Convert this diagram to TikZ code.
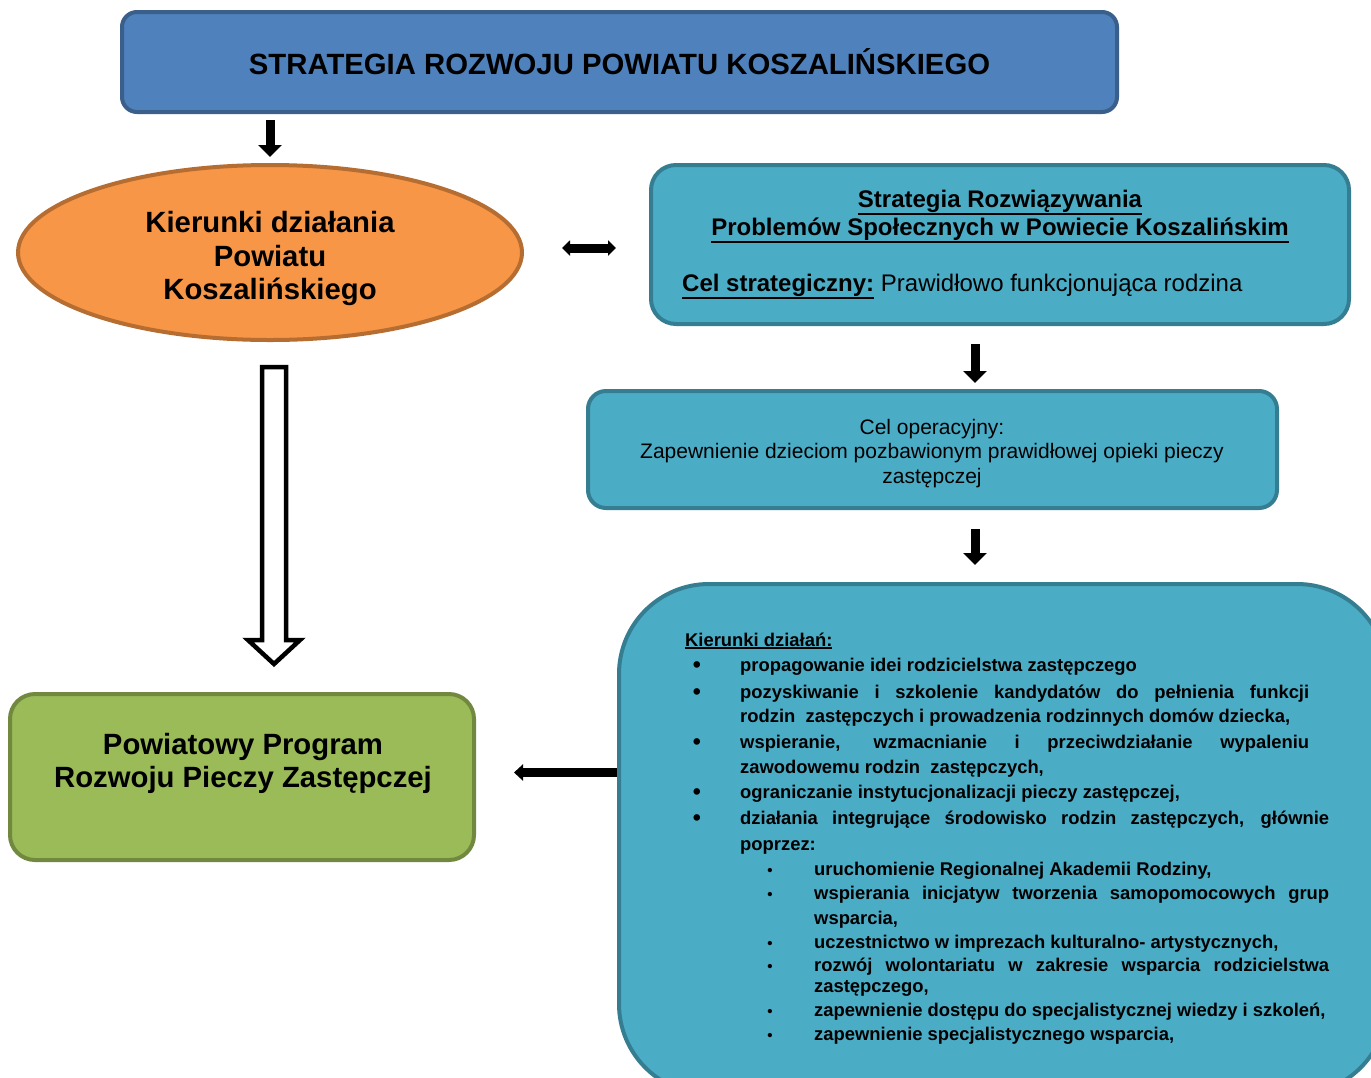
\documentclass[tikz,border=0pt]{standalone}
\usepackage{fontspec}
\setmainfont{Liberation Sans}
\usetikzlibrary{arrows.meta,shapes.geometric}
\definecolor{blueF}{HTML}{4F81BD}
\definecolor{blueD}{HTML}{3A5F8B}
\definecolor{orF}{HTML}{F79646}
\definecolor{orD}{HTML}{B66D31}
\definecolor{tealF}{HTML}{4BACC6}
\definecolor{tealD}{HTML}{357D91}
\definecolor{grF}{HTML}{9BBB59}
\definecolor{grD}{HTML}{71893F}
\newcommand{\thul}[1]{\setbox0=\hbox{#1}\leavevmode\rlap{\vrule width\wd0 height\dimexpr-\dp0-1.2pt\relax depth\dimexpr\dp0+3pt\relax}\box0}
\begin{document}
\begin{tikzpicture}[x=1pt,y=-1pt,
  shapebox/.style={draw, line width=4pt, inner sep=0pt},
  fatarrow/.style={line width=9pt, -{Triangle[width=23pt,length=12pt]}},
  thinarrow/.style={line width=9pt, {Triangle[width=15pt,length=8pt]}-{Triangle[width=15pt,length=8pt]}},
  leftarrow/.style={line width=9pt, -{Triangle[width=16pt,length=9pt]}},
  hollow/.style={draw, line width=4.5pt, fill=white, line join=miter},
  bigfont/.style={font=\fontsize{29.3}{33.5}\selectfont\bfseries},
  midbold/.style={font=\fontsize{24}{28}\selectfont\bfseries},
  midfont/.style={font=\fontsize{24}{28}\selectfont},
  opfont/.style={font=\fontsize{21}{24}\selectfont},
  listfont/.style={font=\fontsize{18.4}{22}\selectfont\bfseries},
  ltext/.style={listfont, anchor=base west, inner sep=0pt},
  mbul/.style={font=\fontsize{23}{23}\selectfont\bfseries, anchor=base, inner sep=0pt},
  sbul/.style={font=\fontsize{15}{15}\selectfont\bfseries, anchor=base, inner sep=0pt}
]
\clip (0,0) rectangle (1371,1077);
\fill[white] (0,0) rectangle (1371,1077);

% top box
\node[shapebox, draw=blueD, fill=blueF, rounded corners=15pt,
  minimum width=995pt, minimum height=100pt, bigfont] (top) at (619.5,62)
  {STRATEGIA ROZWOJU POWIATU KOSZALIŃSKIEGO};

% ellipse
\node[ellipse, shapebox, draw=orD, fill=orF, minimum width=504pt,
  minimum height=175pt] (ell) at (270,252.5) {};
\node[align=center, bigfont, inner sep=0pt] (ellt) at (270,258.5)
  {Kierunki działania\\Powiatu\\Koszalińskiego};

% box 1
\node[shapebox, draw=tealD, fill=tealF, rounded corners=25pt,
  minimum width=698pt, minimum height=159pt] (box1) at (1000,244.5) {};
\node[midbold, anchor=base, inner sep=0pt] (b1a) at (1000,207)
  {\thul{Strategia Rozwiązywania}};
\node[midbold, anchor=base, inner sep=0pt] (b1b) at (1000,235)
  {\thul{Problemów Społecznych w Powiecie Koszalińskim}};
\node[midfont, anchor=base west, inner sep=0pt] (b1c) at (682,291)
  {\textbf{\thul{Cel strategiczny:}} Prawidłowo funkcjonująca rodzina};

% box 2
\node[shapebox, draw=tealD, fill=tealF, rounded corners=18pt,
  minimum width=689pt, minimum height=117pt] (box2) at (932.5,449.5) {};
\node[opfont, anchor=base, inner sep=0pt] (b2a) at (932,434) {Cel operacyjny:};
\node[opfont, anchor=base, inner sep=0pt] (b2b) at (932,458.5)
  {Zapewnienie dzieciom pozbawionym prawidłowej opieki pieczy};
\node[opfont, anchor=base, inner sep=0pt] (b2c) at (932,483) {zastępczej};

% box 3
\node[shapebox, draw=tealD, fill=tealF, rounded corners=90pt,
  minimum width=768pt, minimum height=510pt, anchor=north west] (box3) at (617,582) {};

% green box
\node[shapebox, draw=grD, fill=grF, rounded corners=25pt,
  minimum width=464pt, minimum height=166pt] (green) at (242,777) {};
\node[align=center, font=\fontsize{29.3}{33}\selectfont\bfseries, inner sep=0pt] (greent) at (243,763)
  {Powiatowy Program\\Rozwoju Pieczy Zastępczej};

% arrows
\coordinate (ax) at (975,0);
\draw[fatarrow, shorten <=6pt, shorten >=6pt] (top.south -| ell.north) -- (ell.north);
\draw[thinarrow, shorten <=33pt, shorten >=38pt] ([yshift=-3.5pt]box1.west) -- ([yshift=-3.5pt]box1.west -| ell.east);
\draw[fatarrow, shorten <=18pt, shorten >=6pt] (box1.south -| ax) -- (box2.north -| ax);
\draw[fatarrow, shorten <=19pt, shorten >=17pt] (box2.south -| ax) -- (box3.north -| ax);
\coordinate (g1) at (617,772.5);
\draw[leftarrow, shorten >=38pt] (g1) -- (g1 -| green.east);

% hollow arrow
\coordinate (hs) at (274,367);
\coordinate (ht) at (274,664);
\draw[hollow] ([xshift=-12pt]hs) -- ([xshift=12pt]hs) -- ([xshift=12pt,yshift=24pt]ht)
  -- ([xshift=26pt,yshift=24pt]ht) -- (ht) -- ([xshift=-26pt,yshift=24pt]ht)
  -- ([xshift=-12pt,yshift=24pt]ht) -- cycle;

% box 3 text
\node[ltext] (kd) at (685,646) {\thul{Kierunki działań:}};
\node[mbul] (m1) at (697,672) {•};
\node[ltext] (l1) at (740,671) {propagowanie idei rodzicielstwa zastępczego};
\node[mbul] (m2) at (697,699) {•};
\node[ltext] (l2) at (740,698) {\makebox[569pt][s]{pozyskiwanie i szkolenie kandydatów do pełnienia funkcji}};
\node[ltext] (l3) at (740,722) {rodzin\ \ zastępczych i prowadzenia rodzinnych domów dziecka,};
\node[mbul] (m3) at (697,749) {•};
\node[ltext] (l4) at (740,748) {\makebox[569pt][s]{wspieranie, wzmacnianie i przeciwdziałanie wypaleniu}};
\node[ltext] (l5) at (740,773) {zawodowemu rodzin\ \ zastępczych,};
\node[mbul] (m4) at (697,799) {•};
\node[ltext] (l6) at (740,798) {ograniczanie instytucjonalizacji pieczy zastępczej,};
\node[mbul] (m5) at (697,825) {•};
\node[ltext] (l7) at (740,824) {\makebox[589pt][s]{działania integrujące środowisko rodzin zastępczych, głównie}};
\node[ltext] (l8) at (740,850) {poprzez:};
\node[sbul] (s1) at (770,875) {•};
\node[ltext] (k1) at (814,875) {uruchomienie Regionalnej Akademii Rodziny,};
\node[sbul] (s2) at (770,899) {•};
\node[ltext] (k2) at (814,899) {\makebox[515pt][s]{wspierania inicjatyw tworzenia samopomocowych grup}};
\node[ltext] (k3) at (814,924) {wsparcia,};
\node[sbul] (s3) at (770,948) {•};
\node[ltext] (k4) at (814,948) {uczestnictwo w imprezach kulturalno- artystycznych,};
\node[sbul] (s4) at (770,971) {•};
\node[ltext] (k5) at (814,971) {\makebox[515pt][s]{rozwój wolontariatu w zakresie wsparcia rodzicielstwa}};
\node[ltext] (k6) at (814,992) {zastępczego,};
\node[sbul] (s5) at (770,1016) {•};
\node[ltext] (k7) at (814,1016) {zapewnienie dostępu do specjalistycznej wiedzy i szkoleń,};
\node[sbul] (s6) at (770,1040) {•};
\node[ltext] (k8) at (814,1040) {zapewnienie specjalistycznego wsparcia,};
\end{tikzpicture}
\end{document}
